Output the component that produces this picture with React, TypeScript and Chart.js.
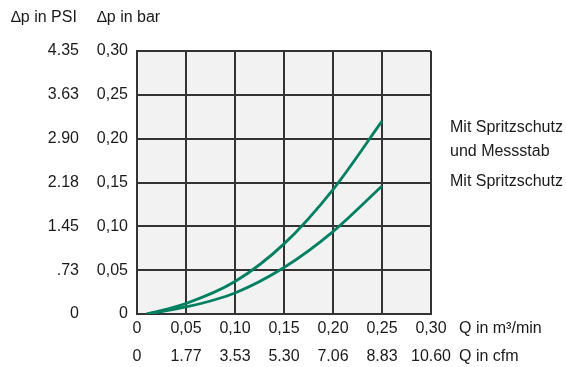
import React, { useEffect, useRef } from "react";
import { Chart, registerables } from "chart.js";

Chart.register(...registerables);

const qValues = [0.01, 0.05, 0.1, 0.15, 0.2, 0.25];
const withGuardAndDipstick = [0, 0.012, 0.037, 0.08, 0.142, 0.22];
const withGuard = [0, 0.008, 0.024, 0.053, 0.094, 0.146];

const m3Labels = ["0", "0,05", "0,10", "0,15", "0,20", "0,25", "0,30"];
const cfmLabels = ["0", "1.77", "3.53", "5.30", "7.06", "8.83", "10.60"];
const barLabels = ["0", "0,05", "0,10", "0,15", "0,20", "0,25", "0,30"];
const psiLabels = ["0", ".73", "1.45", "2.18", "2.90", "3.63", "4.35"];

const seriesNames = ["Mit Spritzschutz und Messstab", "Mit Spritzschutz"];

const FONT = "'Liberation Sans', Arial, sans-serif";
const TEXT = "#1a1a1a";
const GRID = "#333333";
const GREEN = "#008062";

export default function App() {
  const ref = useRef<HTMLCanvasElement>(null);
  useEffect(() => {
    if (!ref.current) return;
    const bgPlugin = {
      id: "bg",
      beforeDraw(chart: any) {
        const { ctx, chartArea } = chart;
        ctx.save();
        ctx.fillStyle = "#f2f2f2";
        ctx.fillRect(chartArea.left, chartArea.top, chartArea.right - chartArea.left, chartArea.bottom - chartArea.top);
        ctx.restore();
      },
      afterDraw(chart: any) {
        const { ctx, chartArea, scales } = chart;
        ctx.save();
        ctx.font = `16px ${FONT}`;
        ctx.fillStyle = TEXT;
        ctx.textBaseline = "middle";
        ctx.textAlign = "left";
        ctx.fillText("∆p in PSI", 11, 18);
        ctx.fillText("∆p in bar", 97, 18);
        const xr = chartArea.right + 28;
        ctx.fillText("Q in m³/min", xr, 329);
        ctx.fillText("Q in cfm", xr, 357);
        const lx = chartArea.right + 19;
        const y1 = scales.y.getPixelForValue(withGuardAndDipstick[withGuardAndDipstick.length - 1]);
        const y2 = scales.y.getPixelForValue(withGuard[withGuard.length - 1]);
        ctx.fillText("Mit Spritzschutz", lx, y1 + 6);
        ctx.fillText("und Messstab", lx, y1 + 30);
        ctx.fillText(seriesNames[1], lx, y2 - 4);
        ctx.restore();
      },
    };
    const chart = new Chart(ref.current, {
      type: "line",
      data: {
        datasets: [
          {
            label: seriesNames[0],
            data: qValues.map((q, i) => ({ x: q, y: withGuardAndDipstick[i] })),
            borderColor: GREEN,
            borderWidth: 2.8,
            pointRadius: 0,
            cubicInterpolationMode: "monotone",
            fill: false,
          },
          {
            label: seriesNames[1],
            data: qValues.map((q, i) => ({ x: q, y: withGuard[i] })),
            borderColor: GREEN,
            borderWidth: 2.8,
            pointRadius: 0,
            cubicInterpolationMode: "monotone",
            fill: false,
          },
        ],
      },
      options: {
        responsive: false,
        animation: false,
        layout: { padding: { top: 51, right: 135, left: 0, bottom: 0 } },
        plugins: { legend: { display: false }, tooltip: { enabled: false } },
        scales: {
          x: {
            type: "linear",
            position: "bottom",
            weight: 0,
            min: 0,
            max: 0.3,
            afterFit: (s: any) => { s.height = 28; },
            grid: { color: GRID, lineWidth: 2, drawTicks: false },
            border: { color: GRID, width: 2 },
            ticks: {
              stepSize: 0.05,
              padding: 5,
              color: TEXT,
              font: { family: FONT, size: 16 },
              maxRotation: 0,
              autoSkip: false,
              callback: (_v: any, i: number) => m3Labels[i],
            },
          },
          x2: {
            type: "linear",
            position: "bottom",
            weight: 1,
            min: 0,
            max: 0.3,
            afterFit: (s: any) => { s.height = 25; },
            grid: { display: false, drawTicks: false },
            border: { display: false },
            ticks: {
              stepSize: 0.05,
              padding: 5,
              color: TEXT,
              font: { family: FONT, size: 16 },
              maxRotation: 0,
              autoSkip: false,
              callback: (_v: any, i: number) => cfmLabels[i],
            },
          },
          y: {
            type: "linear",
            position: "left",
            weight: 0,
            min: 0,
            max: 0.3,
            afterFit: (s: any) => { s.width = 50; },
            grid: { color: GRID, lineWidth: 2, drawTicks: false },
            border: { color: GRID, width: 2 },
            ticks: {
              stepSize: 0.05,
              padding: 9,
              color: TEXT,
              font: { family: FONT, size: 16 },
              autoSkip: false,
              callback: (_v: any, i: number) => barLabels[i],
            },
          },
          y2: {
            type: "linear",
            position: "left",
            weight: 1,
            min: 0,
            max: 0.3,
            afterFit: (s: any) => { s.width = 87; },
            grid: { display: false, drawTicks: false },
            border: { display: false },
            ticks: {
              stepSize: 0.05,
              padding: 8,
              color: TEXT,
              font: { family: FONT, size: 16 },
              autoSkip: false,
              callback: (_v: any, i: number) => psiLabels[i],
            },
          },
        },
      },
      plugins: [bgPlugin],
    } as any);
    return () => chart.destroy();
  }, []);
  return (
    <div style={{ position: "absolute", left: 0, top: 0 }}>
      <canvas ref={ref} width={566} height={367} />
    </div>
  );
}
